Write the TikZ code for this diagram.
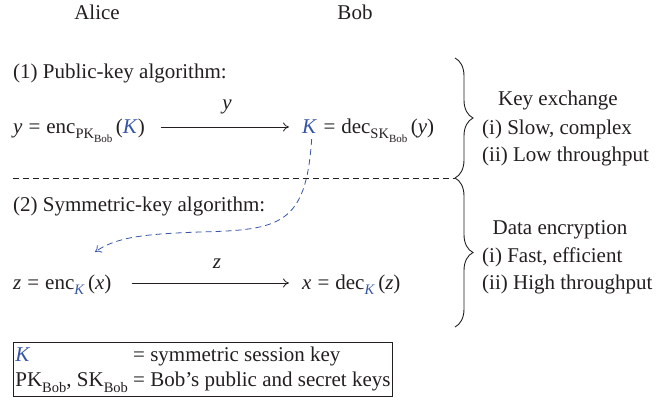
\documentclass[tikz,border=0pt]{standalone}
\usepackage{fontspec}
\setmainfont{Liberation Serif}
\usetikzlibrary{arrows.meta,decorations.pathreplacing}
\definecolor{kblue}{RGB}{55,85,165}
\definecolor{ink}{RGB}{35,31,32}
\newcommand{\Kb}{\textcolor{kblue}{\textit{K}}}
\newcommand{\sbs}[1]{\raisebox{-0.28em}{\fontsize{14.5}{14.5}\selectfont #1}}
\newcommand{\ssbs}[1]{\raisebox{-0.22em}{\fontsize{11}{11}\selectfont #1}}
\newcommand{\eqs}{\hspace{6pt}=\hspace{6pt}}
\begin{document}
\begin{tikzpicture}[x=1pt,y=-1pt,
  every node/.style={inner sep=0pt, text=ink, font=\fontsize{21}{25}\selectfont},
  txt/.style={anchor=base west},
  ctr/.style={anchor=base},
  arr/.style={draw=ink, line width=0.8pt, -{To[length=6pt,width=9pt]}},
  sep/.style={draw=ink, line width=0.8pt, dash pattern=on 6pt off 4pt},
  kdash/.style={draw=kblue, line width=0.8pt, dash pattern=on 6pt off 4pt, -{To[length=6pt,width=9pt]}},
  brc/.style={draw=ink, line width=0.9pt, decorate, decoration={brace, amplitude=18pt}},
  legendbox/.style={draw=ink, line width=0.8pt, anchor=north west, inner sep=2pt}]
\useasboundingbox (0,0) rectangle (659,404);
% headers
\node[ctr] (alice) at (97,20) {Alice};
\node[ctr] (bob) at (355,20) {Bob};
% part 1
\node[txt] (h1) at (13,78) {(1) Public-key algorithm:};
\node[txt] (e1) at (13,133) {\textit{y}\eqs enc\sbs{PK\ssbs{Bob}}\,(\Kb)};
\node[txt] (kk) at (302,133) {\Kb};
\node[txt] (e2) at (kk.base east) {\eqs dec\sbs{SK\ssbs{Bob}}\,(\textit{y})};
\draw[arr] ([shift={(16pt,6pt)}]e1.base east) -- ([shift={(-13pt,6pt)}]kk.base west);
\node[ctr] (ly) at (227,110) {\textit{y}};
% separator and braces
\coordinate (sl) at (13,178);
\coordinate (sr) at (455,178);
\coordinate (b1t) at (455,58);
\coordinate (b2b) at (455,327);
\draw[sep] (sl) -- (sr);
\draw[brc] (b1t) -- (sr);
\draw[brc] (sr) -- (b2b);
% part 2
\node[txt] (h2) at (13,211) {(2) Symmetric-key algorithm:};
\node[txt] (e3) at (13,289) {\textit{z}\eqs enc\sbs{\Kb}\,(\textit{x})};
\node[txt] (e4) at (302,289) {\textit{x}\eqs dec\sbs{\Kb}\,(\textit{z})};
\draw[arr] ([shift={(20pt,6pt)}]e3.base east) -- ([shift={(-13pt,6pt)}]e4.base west);
\node[ctr] (lz) at (217,268) {\textit{z}};
% key transfer
\coordinate (ktip) at (95,252);
\draw[kdash] ([shift={(2pt,-6pt)}]kk.south) .. controls (306,225) and (280,230) .. (200,232)
  .. controls (140,234) and (115,238) .. (ktip);
% right side
\node[ctr] (kx) at (558,106) {Key exchange};
\node[txt] (s1) at (482,134) {(i) Slow, complex};
\node[txt] (s2) at (482,161) {(ii) Low throughput};
\node[ctr] (de) at (560,234) {Data encryption};
\node[txt] (f1) at (482,262) {(i) Fast, efficient};
\node[txt] (f2) at (482,289) {(ii) High throughput};
% legend
\node[legendbox] (legend) at (13,342) {\def\arraystretch{1.0}\begin{tabular}{@{}l@{\ }l@{}}
\Kb & = symmetric session key\\
PK\sbs{Bob}, SK\sbs{Bob} & = Bob's public and secret keys
\end{tabular}};
\end{tikzpicture}
\end{document}
